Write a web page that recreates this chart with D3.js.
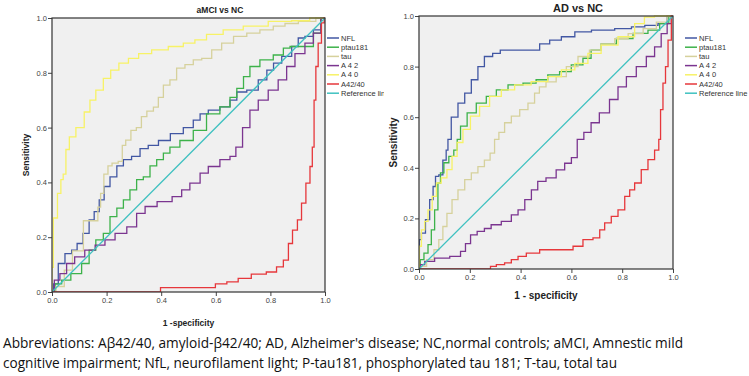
<!DOCTYPE html>
<html>
<head>
<meta charset="utf-8">
<script src="https://cdn.jsdelivr.net/npm/d3@7"></script>
<style>
  body { margin: 0; background: #fff; }
  svg { display: block; }
</style>
</head>
<body>
<div id="chart"></div>
<script>
// -------------------- DATA --------------------
const SERIES = ["NFL", "ptau181", "tau", "A42", "A40", "A42/40"];
const LEGEND_LEFT = ["NFL", "ptau181", "tau", "A 4 2", "A 4 0", "A42/40", "Reference lin"];
const LEGEND_RIGHT = ["NFL", "ptau181", "tau", "A 4 2", "A 4 0", "A42/40", "Reference line"];
const TICKS = [0, 0.2, 0.4, 0.6, 0.8, 1.0];

// aMCI vs NC  [1 - specificity, sensitivity]
const mciNfl = [[0,0],[0.011,0.03],[0.035,0.104],[0.06,0.14],[0.084,0.153],[0.1,0.177],[0.127,0.214],[0.145,0.263],[0.164,0.293],[0.182,0.336],[0.2,0.385],[0.225,0.42],[0.25,0.46],[0.273,0.483],[0.31,0.495],[0.335,0.523],[0.37,0.535],[0.41,0.553],[0.457,0.578],[0.505,0.6],[0.53,0.627],[0.555,0.65],[0.59,0.664],[0.64,0.676],[0.664,0.7],[0.69,0.73],[0.737,0.737],[0.774,0.774],[0.8,0.81],[0.823,0.835],[0.86,0.86],[0.896,0.896],[0.908,0.927],[0.945,0.933],[0.97,0.957],[1,1]];
const mciPtau = [[0,0],[0.023,0.03],[0.048,0.043],[0.09,0.067],[0.127,0.104],[0.145,0.153],[0.176,0.19],[0.2,0.214],[0.225,0.275],[0.25,0.306],[0.273,0.336],[0.298,0.373],[0.322,0.41],[0.347,0.42],[0.371,0.46],[0.396,0.483],[0.42,0.507],[0.444,0.529],[0.493,0.553],[0.542,0.59],[0.59,0.65],[0.64,0.676],[0.664,0.71],[0.69,0.743],[0.713,0.786],[0.737,0.823],[0.786,0.847],[0.835,0.865],[0.86,0.89],[0.884,0.896],[0.945,0.896],[0.97,0.945],[1,1]];
const mciTau = [[0,0],[0.03,0.02],[0.06,0.08],[0.09,0.15],[0.14,0.26],[0.16,0.26],[0.176,0.31],[0.18,0.36],[0.2,0.43],[0.21,0.46],[0.23,0.47],[0.255,0.477],[0.26,0.535],[0.28,0.554],[0.298,0.59],[0.32,0.6],[0.335,0.64],[0.36,0.66],[0.383,0.675],[0.396,0.71],[0.42,0.755],[0.444,0.774],[0.469,0.817],[0.505,0.83],[0.53,0.847],[0.567,0.853],[0.603,0.884],[0.64,0.908],[0.69,0.933],[0.737,0.945],[0.786,0.957],[0.835,0.97],[0.872,0.98],[0.933,0.988],[1,1]];
const mciA42 = [[0,0],[0.017,0.043],[0.041,0.067],[0.066,0.104],[0.1,0.128],[0.14,0.153],[0.176,0.171],[0.212,0.19],[0.25,0.214],[0.298,0.238],[0.322,0.287],[0.36,0.312],[0.41,0.33],[0.47,0.348],[0.48,0.373],[0.53,0.397],[0.555,0.434],[0.59,0.458],[0.64,0.483],[0.664,0.495],[0.683,0.529],[0.713,0.6],[0.737,0.664],[0.774,0.7],[0.81,0.737],[0.847,0.774],[0.872,0.823],[0.908,0.87],[0.945,0.908],[0.97,0.945],[1,1]];
const mciA40 = [[0,0],[0.0,0.09],[0.01,0.27],[0.03,0.36],[0.035,0.41],[0.047,0.43],[0.055,0.52],[0.072,0.566],[0.103,0.6],[0.133,0.657],[0.145,0.7],[0.176,0.737],[0.2,0.78],[0.23,0.81],[0.26,0.835],[0.3,0.853],[0.335,0.87],[0.395,0.884],[0.457,0.896],[0.505,0.908],[0.542,0.92],[0.59,0.94],[0.664,0.957],[0.737,0.97],[0.847,0.988],[0.908,0.99],[0.98,1],[1,1]];
const mciRatio = [[0,0],[0.395,0],[0.4,0.016],[0.58,0.016],[0.617,0.03],[0.664,0.037],[0.7,0.05],[0.76,0.065],[0.81,0.073],[0.835,0.092],[0.86,0.116],[0.872,0.177],[0.89,0.226],[0.908,0.263],[0.92,0.324],[0.94,0.397],[0.95,0.458],[0.957,0.529],[0.963,0.7],[0.97,0.823],[0.98,0.908],[0.994,0.982],[1,1]];

// AD vs NC
const adNfl = [[0,0],[0.003,0.116],[0.016,0.142],[0.035,0.195],[0.049,0.274],[0.062,0.326],[0.068,0.366],[0.088,0.372],[0.1,0.43],[0.114,0.47],[0.114,0.512],[0.14,0.6],[0.167,0.656],[0.193,0.695],[0.219,0.748],[0.245,0.8],[0.27,0.84],[0.31,0.852],[0.33,0.865],[0.455,0.865],[0.495,0.89],[0.534,0.905],[0.587,0.918],[0.64,0.937],[0.718,0.944],[0.823,0.95],[0.85,0.957],[0.928,0.963],[0.954,0.97],[1,1]];
const adPtau = [[0,0],[0.01,0.037],[0.029,0.063],[0.042,0.096],[0.055,0.155],[0.068,0.234],[0.081,0.34],[0.088,0.38],[0.108,0.42],[0.127,0.445],[0.147,0.47],[0.154,0.512],[0.173,0.565],[0.206,0.617],[0.245,0.656],[0.285,0.682],[0.324,0.708],[0.377,0.728],[0.442,0.735],[0.48,0.748],[0.534,0.767],[0.573,0.78],[0.626,0.807],[0.665,0.833],[0.69,0.865],[0.744,0.89],[0.81,0.911],[0.875,0.931],[0.928,0.944],[0.967,0.97],[1,1]];
const adTau = [[0,0],[0.01,0.01],[0.05,0.037],[0.068,0.076],[0.088,0.116],[0.1,0.168],[0.12,0.22],[0.14,0.274],[0.167,0.313],[0.193,0.353],[0.219,0.38],[0.245,0.405],[0.27,0.43],[0.29,0.458],[0.305,0.512],[0.324,0.54],[0.35,0.578],[0.377,0.604],[0.416,0.63],[0.442,0.656],[0.468,0.695],[0.48,0.72],[0.52,0.74],[0.56,0.76],[0.6,0.8],[0.652,0.84],[0.69,0.865],[0.744,0.89],[0.797,0.91],[0.85,0.93],[0.915,0.95],[0.954,0.976],[1,1]];
const adA42 = [[0,0],[0.01,0.017],[0.035,0.03],[0.088,0.043],[0.154,0.05],[0.173,0.07],[0.193,0.1],[0.213,0.135],[0.245,0.149],[0.27,0.16],[0.298,0.175],[0.35,0.188],[0.377,0.214],[0.403,0.234],[0.43,0.274],[0.455,0.313],[0.48,0.346],[0.52,0.36],[0.56,0.392],[0.587,0.418],[0.613,0.44],[0.633,0.512],[0.665,0.54],[0.69,0.578],[0.73,0.617],[0.77,0.67],[0.797,0.72],[0.836,0.76],[0.875,0.8],[0.915,0.84],[0.94,0.878],[0.967,0.93],[0.987,0.97],[1,1]];
const adA40 = [[0,0],[0.003,0.09],[0.016,0.155],[0.029,0.188],[0.042,0.234],[0.062,0.287],[0.075,0.34],[0.1,0.36],[0.12,0.393],[0.14,0.445],[0.16,0.5],[0.186,0.552],[0.219,0.604],[0.258,0.643],[0.298,0.682],[0.35,0.708],[0.403,0.728],[0.48,0.741],[0.534,0.76],[0.587,0.787],[0.64,0.813],[0.69,0.852],[0.744,0.885],[0.823,0.918],[0.875,0.97],[0.9,0.996],[0.954,1],[1,1]];
const adRatio = [[0,0],[0.278,0],[0.285,0.01],[0.324,0.017],[0.35,0.024],[0.377,0.037],[0.403,0.05],[0.442,0.063],[0.508,0.076],[0.587,0.076],[0.626,0.09],[0.665,0.116],[0.705,0.123],[0.718,0.155],[0.744,0.182],[0.77,0.208],[0.797,0.234],[0.823,0.287],[0.836,0.313],[0.862,0.34],[0.888,0.393],[0.915,0.432],[0.94,0.47],[0.948,0.512],[0.954,0.63],[0.967,0.735],[0.974,0.8],[0.987,0.905],[1,1]];

const COLORS = ["#4257a3", "#3db24a", "#d6d19c", "#7b3590", "#f7f266", "#e6373b"];
const REF_COLOR = "#3fc1c0";

const CAPTION = [
  "Abbreviations: A\u03b242/40, amyloid-\u03b242/40; AD, Alzheimer's disease; NC,normal controls; aMCI, Amnestic mild",
  "cognitive impairment; NfL, neurofilament light; P-tau181, phosphorylated tau 181; T-tau, total tau"
];

// -------------------- SVG --------------------
const svg = d3.select("#chart").append("svg")
  .attr("width", 749)
  .attr("height", 376)
  .style("font-family", "'Liberation Sans', Arial, sans-serif");

function drawPanel(p) {
  const x = d3.scaleLinear().domain([0, 1]).range([p.left, p.right]);
  const y = d3.scaleLinear().domain([0, 1]).range([p.bottom, p.top]);

  const g = svg.append("g");
  const clipId = "clip-" + p.id;
  g.append("clipPath").attr("id", clipId)
    .append("rect")
    .attr("x", p.left).attr("y", p.top - 1)
    .attr("width", p.right - p.left + 1).attr("height", p.bottom - p.top + 1);

  g.append("rect")
    .attr("x", p.left).attr("y", p.top)
    .attr("width", p.right - p.left).attr("height", p.bottom - p.top)
    .attr("fill", "#f0f0f0");

  // axes
  const fmt = d3.format(".1f");
  g.append("g")
    .attr("transform", `translate(0,${p.bottom})`)
    .call(d3.axisBottom(x).tickValues(TICKS).tickFormat(fmt).tickSize(4).tickPadding(2))
    .call(a => a.select(".domain").remove())
    .call(a => a.selectAll("line").attr("stroke", "#444"))
    .call(a => a.selectAll("text").attr("fill", "#444").style("font-size", p.tickFont + "px"));
  g.append("g")
    .attr("transform", `translate(${p.left},0)`)
    .call(d3.axisLeft(y).tickValues(TICKS).tickFormat(fmt).tickSize(4).tickPadding(1))
    .call(a => a.select(".domain").remove())
    .call(a => a.selectAll("line").attr("stroke", "#444"))
    .call(a => a.selectAll("text").attr("fill", "#444").style("font-size", p.tickFont + "px"));

  // curves
  const line = d3.line()
    .x(d => x(d[0]))
    .y(d => y(d[1]))
    .curve(d3.curveStep);

  const lines = g.append("g").attr("clip-path", `url(#${clipId})`);
  p.curves.forEach((c, i) => {
    lines.append("path")
      .datum(c)
      .attr("d", line)
      .attr("fill", "none")
      .attr("stroke", COLORS[i])
      .attr("stroke-width", 1.3);
  });
  lines.append("path")
    .datum([[0, 0], [1, 1]])
    .attr("d", d3.line().x(d => x(d[0])).y(d => y(d[1])))
    .attr("fill", "none")
    .attr("stroke", REF_COLOR)
    .attr("stroke-width", 1.3);

  g.append("rect")
    .attr("x", p.left).attr("y", p.top)
    .attr("width", p.right - p.left).attr("height", p.bottom - p.top)
    .attr("fill", "none")
    .attr("stroke", "#333")
    .attr("stroke-width", 1.2);

  // titles
  g.append("text")
    .attr("x", p.titleX).attr("y", p.titleY)
    .attr("text-anchor", "middle")
    .style("font-weight", "bold")
    .style("font-size", p.titleFont + "px")
    .attr("fill", "#222")
    .text(p.title);

  g.append("text")
    .attr("x", (p.left + p.right) / 2).attr("y", p.xLabelY)
    .attr("text-anchor", "middle")
    .style("font-weight", "bold")
    .style("font-size", p.labelFont + "px")
    .attr("fill", "#222")
    .text(p.xLabel);

  g.append("text")
    .attr("transform", `translate(${p.yLabelX},${(p.top + p.bottom) / 2}) rotate(-90)`)
    .attr("text-anchor", "middle")
    .style("font-weight", "bold")
    .style("font-size", p.labelFont + "px")
    .attr("fill", "#222")
    .text("Sensitivity");

  // legend
  const colors = COLORS.concat([REF_COLOR]);
  const leg = g.append("g");
  p.legend.forEach((name, i) => {
    const ly = p.legendY + i * 9.2;
    leg.append("line")
      .attr("x1", p.legendX).attr("x2", p.legendX + 12)
      .attr("y1", ly).attr("y2", ly)
      .attr("stroke", colors[i]).attr("stroke-width", 1.5);
    leg.append("text")
      .attr("x", p.legendX + 14).attr("y", ly + 2.6)
      .style("font-size", "7.5px")
      .attr("fill", "#333")
      .text(name);
  });
}

drawPanel({
  id: "mci", left: 52, right: 325, top: 18, bottom: 292,
  title: "aMCI vs NC", titleX: 220, titleY: 13, titleFont: 8.5,
  xLabel: "1 -specificity", xLabelY: 326, yLabelX: 29, labelFont: 8.5, tickFont: 7.5,
  legend: LEGEND_LEFT, legendX: 327, legendY: 38,
  curves: [mciNfl, mciPtau, mciTau, mciA42, mciA40, mciRatio]
});

drawPanel({
  id: "ad", left: 419, right: 673, top: 16, bottom: 269,
  title: "AD vs NC", titleX: 578, titleY: 12, titleFont: 11,
  xLabel: "1 - specificity", xLabelY: 299, yLabelX: 397, labelFont: 10, tickFont: 7.5,
  legend: LEGEND_RIGHT, legendX: 685, legendY: 38,
  curves: [adNfl, adPtau, adTau, adA42, adA40, adRatio]
});

// cover the cut-off edge of the left picture
svg.append("rect").attr("x", 384).attr("y", 0).attr("width", 3).attr("height", 300).attr("fill", "#fff");

// caption
const capWidths = [680, 614];
CAPTION.forEach((t, i) => {
  svg.append("text")
    .attr("x", 3).attr("y", 348 + i * 20)
    .attr("textLength", capWidths[i])
    .attr("lengthAdjust", "spacingAndGlyphs")
    .style("font-family", "'Open Sans', 'Noto Sans', sans-serif")
    .style("font-size", "14px")
    .attr("fill", "#111")
    .text(t);
});
</script>
</body>
</html>
